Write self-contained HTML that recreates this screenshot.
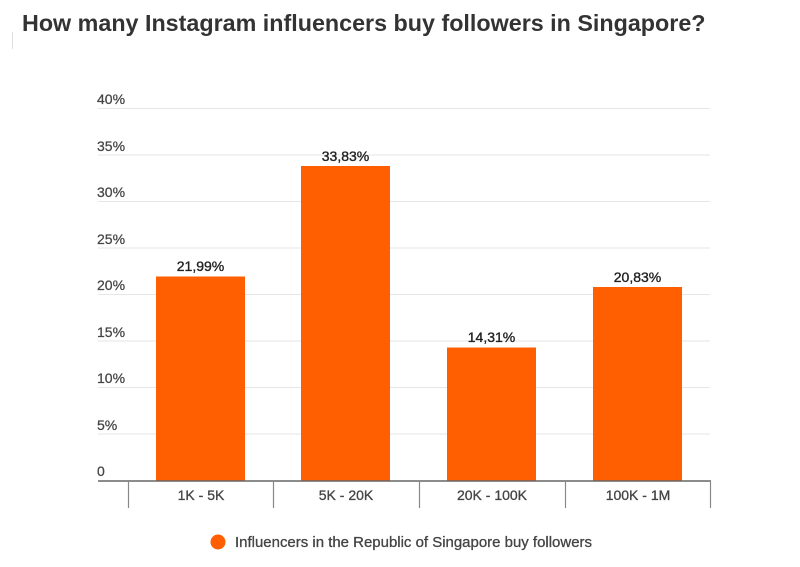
<!DOCTYPE html>
<html><head><style>
html,body{margin:0;padding:0;background:#fff;width:800px;height:567px;overflow:hidden}
svg{display:block}
text{font-family:"Liberation Sans",Arial,sans-serif}
</style></head><body>
<svg width="800" height="567" viewBox="0 0 800 567">
<rect width="800" height="567" fill="#fff"/>
<text x="22" y="31" font-size="23.3" font-weight="bold" fill="#333">How many Instagram influencers buy followers in Singapore?</text>
<line x1="12.5" y1="32" x2="12.5" y2="49" stroke="#ddd"/>
<g stroke="#e6e6e6" stroke-width="1">
<line x1="98" y1="108.5" x2="710" y2="108.5"/>
<line x1="98" y1="155" x2="710" y2="155"/>
<line x1="98" y1="201.5" x2="710" y2="201.5"/>
<line x1="98" y1="248" x2="710" y2="248"/>
<line x1="98" y1="294.5" x2="710" y2="294.5"/>
<line x1="98" y1="341" x2="710" y2="341"/>
<line x1="98" y1="387.5" x2="710" y2="387.5"/>
<line x1="98" y1="434" x2="710" y2="434"/>
</g>
<g font-size="14" fill="#444" stroke="#444" stroke-width="0.25">
<text x="97" y="104">40%</text>
<text x="97" y="151">35%</text>
<text x="97" y="197">30%</text>
<text x="97" y="244">25%</text>
<text x="97" y="290">20%</text>
<text x="97" y="337">15%</text>
<text x="97" y="383">10%</text>
<text x="97" y="430">5%</text>
<text x="97" y="476">0</text>
</g>
<g fill="#ff5f00">
<rect x="156" y="276.5" width="89" height="204"/>
<rect x="301" y="166" width="89" height="314.5"/>
<rect x="447" y="347.5" width="89" height="133"/>
<rect x="593" y="287" width="89" height="193.5"/>
</g>
<g font-size="14" fill="#222" stroke="#222" stroke-width="0.35" text-anchor="middle">
<text x="200.5" y="271">21,99%</text>
<text x="345.5" y="161">33,83%</text>
<text x="491.5" y="342">14,31%</text>
<text x="637.5" y="282">20,83%</text>
</g>
<line x1="98" y1="481" x2="711" y2="481" stroke="#666" stroke-width="1.5"/>
<g stroke="#888" stroke-width="1.2">
<line x1="128.5" y1="481" x2="128.5" y2="508"/>
<line x1="273.5" y1="481" x2="273.5" y2="508"/>
<line x1="419.5" y1="481" x2="419.5" y2="508"/>
<line x1="565.5" y1="481" x2="565.5" y2="508"/>
<line x1="710.5" y1="481" x2="710.5" y2="508"/>
</g>
<g font-size="14" fill="#444" stroke="#444" stroke-width="0.3" text-anchor="middle">
<text x="201" y="500">1K - 5K</text>
<text x="346" y="500">5K - 20K</text>
<text x="492" y="500">20K - 100K</text>
<text x="638" y="500">100K - 1M</text>
</g>
<circle cx="218" cy="542" r="7.5" fill="#ff5f00"/>
<text x="235" y="547" font-size="14.5" fill="#444" stroke="#444" stroke-width="0.3" textLength="357" lengthAdjust="spacingAndGlyphs">Influencers in the Republic of Singapore buy followers</text>
</svg>
</body></html>
